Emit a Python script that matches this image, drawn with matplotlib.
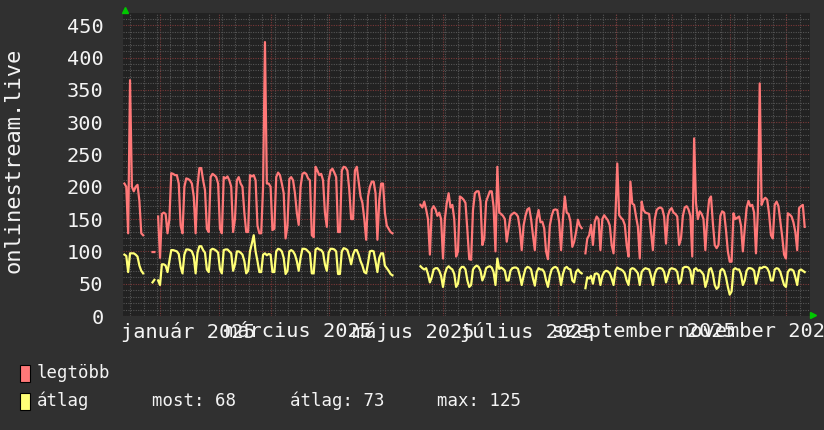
import numpy as np
import pandas as pd
import matplotlib
matplotlib.use("Agg")
import matplotlib.pyplot as plt
from matplotlib.patches import Rectangle
from matplotlib.ticker import MultipleLocator

nan = np.nan

# daily values from 2024-12-09, one row per week (Mon..Sun)
first_day = "2024-12-09"

legtobb = [
    nan, nan, nan, nan, 205, 200, 128,
    365, 200, 193, 200, 203, 178, 128,
    125, nan, nan, nan, nan, 99, 99,
    nan, 154, 90, 158, 160, 158, 128,
    150, 221, 220, 218, 218, 205, 140,
    128, 200, 213, 212, 210, 205, 185,
    128, 200, 229, 229, 210, 195, 135,
    130, 215, 220, 218, 215, 205, 135,
    128, 215, 213, 216, 210, 200, 130,
    150, 210, 215, 205, 200, 160, 130,
    130, 218, 216, 218, 210, 140, 128,
    128, 200, 424, 205, 205, 200, 133,
    135, 215, 222, 218, 205, 190, 120,
    140, 212, 215, 210, 190, 160, 141,
    200, 220, 222, 220, 213, 210, 125,
    122, 231, 225, 218, 220, 210, 160,
    138, 210, 225, 228, 222, 215, 130,
    130, 225, 231, 230, 225, 195, 150,
    150, 225, 231, 208, 185, 175, 150,
    118, 185, 200, 208, 208, 190, 118,
    180, 205, 205, 160, 140, 135, 130,
    128, nan, nan, nan, nan, nan, nan,
    nan, nan, nan, nan, nan, nan, nan,
    nan, 172, 168, 177, 165, 150, 95,
    165, 170, 165, 155, 160, 150, 89,
    150, 175, 190, 168, 172, 150, 92,
    100, 185, 183, 180, 175, 133, 88,
    87, 164, 190, 193, 193, 177, 110,
    120, 177, 185, 193, 193, 169, 100,
    231, 160, 158, 155, 150, 115, 135,
    155, 158, 160, 158, 154, 135, 102,
    140, 155, 165, 167, 150, 125, 102,
    150, 164, 145, 146, 136, 100, 88,
    140, 155, 164, 165, 164, 145, 102,
    150, 185, 160, 158, 146, 107, 115,
    130, 149, 140, 136, nan, 97, 120,
    125, 141, 110, 146, 154, 150, 102,
    150, 156, 152, 148, 140, 110, 97,
    154, 236, 156, 152, 149, 141, 110,
    92, 208, 174, 172, 154, 138, 89,
    177, 164, 160, 159, 158, 130, 102,
    150, 164, 167, 168, 166, 154, 112,
    155, 164, 167, 160, 158, 154, 110,
    120, 155, 168, 170, 165, 155, 92,
    275, 175, 150, 162, 158, 150, 102,
    150, 180, 185, 144, 110, 105, 110,
    155, 162, 160, 133, 100, 84, 84,
    159, 150, 152, 154, 140, 100, 135,
    167, 178, 170, 172, 160, 97, 160,
    360, 172, 180, 183, 180, 158, 125,
    120, 172, 177, 170, 146, 123, 95,
    89, 159, 157, 154, 145, 130, 102,
    167, 170, 172, 138, nan, nan, nan,
]

atlag = [
    nan, nan, nan, nan, 95, 93, 68,
    97, 97, 97, 95, 92, 78, 70,
    66, nan, nan, nan, nan, 52, 56,
    nan, 55, 48, 80, 80, 78, 68,
    85, 102, 102, 101, 100, 96, 76,
    66, 95, 103, 103, 102, 100, 92,
    66, 98, 108, 108, 102, 98, 72,
    68, 102, 104, 103, 101, 98, 72,
    66, 102, 103, 103, 100, 97, 70,
    80, 100, 100, 98, 95, 85, 66,
    70, 100, 112, 125, 100, 85, 68,
    68, 95, 97, 94, 96, 95, 68,
    68, 100, 104, 103, 100, 90, 65,
    70, 100, 102, 100, 95, 85, 70,
    90, 104, 104, 103, 100, 97, 66,
    66, 103, 105, 103, 102, 98, 80,
    70, 98, 104, 104, 103, 100, 65,
    65, 100, 105, 104, 102, 92, 80,
    95, 102, 102, 95, 85, 78, 68,
    66, 82, 100, 101, 100, 85, 68,
    90, 97, 97, 78, 74, 70, 65,
    63, nan, nan, nan, nan, nan, nan,
    nan, nan, nan, nan, nan, nan, nan,
    nan, 77, 74, 72, 74, 65, 52,
    60, 72, 74, 74, 70, 62, 45,
    65, 74, 77, 74, 72, 65, 45,
    50, 72, 76, 76, 72, 55, 45,
    48, 72, 76, 78, 76, 70, 55,
    62, 74, 76, 77, 75, 68, 48,
    89, 73, 75, 73, 70, 55, 55,
    70, 74, 75, 75, 73, 62, 48,
    62, 73, 76, 75, 72, 58, 47,
    68, 74, 72, 72, 68, 55, 45,
    62, 72, 75, 76, 74, 65, 48,
    65, 74, 76, 73, 72, 55, 52,
    68, 72, 68, 66, nan, 43, 60,
    58, 62, 50, 65, 66, 64, 48,
    62, 68, 70, 69, 66, 58, 48,
    70, 75, 73, 72, 70, 66, 55,
    48, 72, 74, 73, 70, 66, 48,
    68, 72, 74, 73, 72, 62, 48,
    65, 72, 74, 74, 73, 68, 52,
    62, 72, 74, 73, 72, 68, 50,
    55, 74, 76, 76, 75, 70, 50,
    72, 74, 70, 71, 68, 64, 45,
    55, 72, 74, 65, 48, 42, 45,
    70, 73, 70, 60, 45, 33, 38,
    72, 74, 72, 72, 65, 48, 55,
    70, 74, 74, 73, 70, 50, 62,
    75, 74, 76, 76, 74, 68, 55,
    55, 72, 74, 73, 68, 58, 48,
    45, 68, 72, 72, 70, 60, 48,
    70, 72, 70, 68, nan, nan, nan,
]

label_dates = ["2025-01-16", "2025-03-16", "2025-05-16",
               "2025-07-16", "2025-09-16", "2025-11-16"]
label_texts = ["január 2025", "március 2025", "május 2025",
               "július 2025", "szeptember 2025", "november 2025"]
y_max = 469
legend_stats = ["most: 68", "átlag: 73", "max: 125"]

BG = "#303030"
CANVAS = "#222222"
RED = "#ff7878"
YELLOW = "#ffff77"
TXT = "#f4f4f4"
GRID_MINOR = "#555555"
GRID_MAJOR = "#7a3838"
MONO = "DejaVu Sans Mono"

days = pd.date_range(first_day, periods=len(legtobb), freq="D")

fig = plt.figure(figsize=(8.24, 4.30), dpi=100, facecolor=BG)
ax = fig.add_axes([123 / 824, 114 / 430, 687 / 824, 303 / 430])
ax.set_facecolor(CANVAS)

x0 = pd.Timestamp("2024-12-12 06:00")
x1 = pd.Timestamp("2025-12-13 20:00")
ax.set_xlim(x0, x1)
ax.set_ylim(0, y_max)

# grid: weekly / 10-unit minor, monthly / 50-unit major
ax.yaxis.set_major_locator(MultipleLocator(50))
ax.yaxis.set_minor_locator(MultipleLocator(10))
ax.grid(which="minor", axis="y", color=GRID_MINOR, lw=0.8, ls=(0, (1, 1.2)))
ax.grid(which="major", axis="y", color=GRID_MAJOR, lw=0.8, ls=(0, (1, 1.2)))
for d in pd.date_range(x0, x1, freq="W-MON"):
    ax.axvline(d, color=GRID_MINOR, lw=0.8, ls=(0, (1, 1.2)), zorder=0.5)
for d in pd.date_range(x0, x1, freq="MS"):
    ax.axvline(d, color=GRID_MAJOR, lw=0.8, ls=(0, (1, 1.2)), zorder=0.6)

ax.plot(days, legtobb, color=RED, lw=1.6, zorder=3)
ax.plot(days, atlag, color=YELLOW, lw=1.6, zorder=3)

ax.set_xticks(pd.to_datetime(label_dates))
ax.set_xticklabels(label_texts)
ax.tick_params(axis="x", which="both", length=0, pad=4, colors=TXT, labelsize=14.6)
ax.tick_params(axis="y", which="both", length=0, pad=14, colors=TXT, labelsize=14.6)
for lab in ax.get_xticklabels() + ax.get_yticklabels():
    lab.set_family(MONO)
for s in ax.spines.values():
    s.set_visible(False)

fig.text(14 / 824, 1 - 160 / 430, "onlinestream.live", rotation=90,
         ha="center", va="center", color=TXT, family=MONO, fontsize=15.8)

# green arrows at the axis ends
ax.plot([0.003], [1.01], transform=ax.transAxes, marker="^", ms=5,
        color="#00c800", clip_on=False, ls="none")
ax.plot([1.0045], [0.003], transform=ax.transAxes, marker=">", ms=5,
        color="#00c800", clip_on=False, ls="none")

# legend
for i, (name, col) in enumerate([("legtöbb", RED), ("átlag", YELLOW)]):
    top = 365 + i * 28
    fig.patches.append(Rectangle((20 / 824, 1 - (top + 17) / 430), 10 / 824, 17 / 430,
                                 transform=fig.transFigure, facecolor=col,
                                 edgecolor="black", lw=0.8))
    fig.text(37 / 824, 1 - (top + 13) / 430, name, color=TXT, family=MONO,
             fontsize=12.5, va="baseline")
for xp, txt in zip([152, 290, 437], legend_stats):
    fig.text(xp / 824, 1 - 406 / 430, txt, color=TXT, family=MONO,
             fontsize=12.5, va="baseline")

fig.savefig("out.png", dpi=100, facecolor=BG)
